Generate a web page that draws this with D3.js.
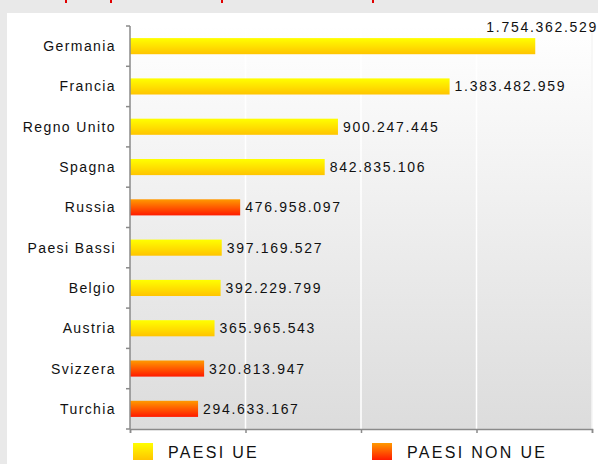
<!DOCTYPE html>
<html lang="it">
<head>
<meta charset="utf-8">
<script src="https://d3js.org/d3.v7.min.js"></script>
<style>
  body { margin: 0; background: #e9e9e9; }
  svg { display: block; font-family: "Liberation Sans", Arial, sans-serif; }
</style>
</head>
<body>
<script>
  // Data
  const paesi = ["Germania", "Francia", "Regno Unito", "Spagna", "Russia", "Paesi Bassi", "Belgio", "Austria", "Svizzera", "Turchia"];
  const valori = [1754362529, 1383482959, 900247445, 842835106, 476958097, 397169527, 392229799, 365965543, 320813947, 294633167];
  const gruppo = ["UE", "UE", "UE", "UE", "NON", "UE", "UE", "UE", "NON", "NON"];
  const xTicks = [0, 500000000, 1000000000, 1500000000, 2000000000];
  const legenda = [{key: "UE", label: "PAESI UE"}, {key: "NON", label: "PAESI NON UE"}];

  // Dimensions
  const W = 598, H = 464;
  const pLeft = 130, pRight = 592, pTop = 26, pBottom = 429;

  const it = d3.formatLocale({decimal: ",", thousands: ".", grouping: [3], currency: ["€", ""]});
  const fmt = it.format(",d");

  const svg = d3.select("body").append("svg").attr("width", W).attr("height", H);
  const defs = svg.append("defs");

  // gradients
  function vgrad(id, c0, c1) {
    const g = defs.append("linearGradient").attr("id", id).attr("x1", 0).attr("y1", 0).attr("x2", 0).attr("y2", 1);
    g.append("stop").attr("offset", "0%").attr("stop-color", c0);
    g.append("stop").attr("offset", "100%").attr("stop-color", c1);
  }
  vgrad("bg", "#ffffff", "#dcdcdc");
  vgrad("gUE", "#ffff00", "#ffc400");
  vgrad("gNON", "#ff9a00", "#ff1a00");
  const fillOf = g => g === "UE" ? "url(#gUE)" : "url(#gNON)";

  // cut-off title strip at the top
  svg.append("rect").attr("x", 0).attr("y", 0).attr("width", W).attr("height", 13).attr("fill", "#e9e9e9");
  svg.selectAll("rect.desc").data([65, 110, 221, 372]).join("rect")
    .attr("class", "desc").attr("x", d => d).attr("y", 0).attr("width", 2).attr("height", 3).attr("fill", "#e00000");

  // white panel
  svg.append("rect").attr("x", 7).attr("y", 13).attr("width", W - 7).attr("height", H - 13).attr("fill", "#ffffff");

  // Scales
  const x = d3.scaleLinear().domain([0, 2000000000]).range([pLeft, pRight]);
  const y = d3.scaleBand().domain(paesi).range([pTop, pBottom]).paddingInner(0.6).paddingOuter(0.3);

  // plot background
  svg.append("rect").attr("x", pLeft).attr("y", pTop).attr("width", pRight - pLeft).attr("height", pBottom - pTop).attr("fill", "url(#bg)");

  // grid
  svg.selectAll("line.grid").data(xTicks.slice(1, -1)).join("line")
    .attr("class", "grid")
    .attr("x1", d => x(d)).attr("x2", d => x(d)).attr("y1", pTop).attr("y2", pBottom)
    .attr("stroke", "#ffffff").attr("stroke-width", 1.5);
  svg.append("line").attr("x1", pRight).attr("x2", pRight).attr("y1", pTop).attr("y2", pBottom)
    .attr("stroke", "#f4f4f4").attr("stroke-width", 1.5);

  // bars
  svg.selectAll("rect.bar").data(paesi).join("rect")
    .attr("class", "bar")
    .attr("x", x(0))
    .attr("y", d => y(d))
    .attr("width", (d, i) => x(valori[i]) - x(0))
    .attr("height", y.bandwidth())
    .attr("fill", (d, i) => fillOf(gruppo[i]));

  // value labels
  const lab = svg.selectAll("text.val").data(paesi).join("text")
    .attr("class", "val")
    .attr("font-size", 14).attr("letter-spacing", 1.7).attr("fill", "#111")
    .attr("x", (d, i) => x(valori[i]) + 5)
    .attr("y", d => y(d) + y.bandwidth() / 2 + 5)
    .text((d, i) => fmt(valori[i]));
  lab.each(function(d, i) {
    const w = this.getComputedTextLength();
    if (x(valori[i]) + 5 + w > W) {
      d3.select(this).attr("text-anchor", "end").attr("x", W).attr("y", y(d) - 6);
    }
  });

  // Y axis
  const yAxisG = svg.append("g").attr("transform", `translate(${pLeft},0)`);
  yAxisG.append("line").attr("x1", 0).attr("x2", 0).attr("y1", pTop).attr("y2", pBottom).attr("stroke", "#8a8a8a").attr("stroke-width", 1.5);
  const bounds = d3.range(paesi.length + 1).map(i => pTop + i * (pBottom - pTop) / paesi.length);
  yAxisG.selectAll("line.tk").data(bounds).join("line")
    .attr("class", "tk").attr("x1", -4).attr("x2", 0).attr("y1", d => d).attr("y2", d => d)
    .attr("stroke", "#8a8a8a").attr("stroke-width", 1.5);
  yAxisG.selectAll("text").data(paesi).join("text")
    .attr("x", -14).attr("y", d => y(d) + y.bandwidth() / 2 + 5)
    .attr("text-anchor", "end").attr("font-size", 14).attr("letter-spacing", 1.4).attr("fill", "#111")
    .text(d => d);

  // X axis
  const xAxis = svg.append("g")
    .attr("transform", `translate(0,${pBottom})`)
    .call(d3.axisBottom(x).tickValues(xTicks).tickSize(4).tickFormat(""));
  xAxis.select(".domain").attr("stroke", "#8a8a8a").attr("stroke-width", 1.5);
  xAxis.selectAll(".tick line").attr("stroke", "#8a8a8a").attr("stroke-width", 1.5);

  // Legend
  const legX = [133, 372];
  const lg = svg.selectAll("g.leg").data(legenda).join("g")
    .attr("class", "leg").attr("transform", (d, i) => `translate(${legX[i]},443)`);
  lg.append("rect").attr("width", 20).attr("height", 17).attr("fill", d => fillOf(d.key));
  lg.append("text").attr("x", 35).attr("y", 15).attr("font-size", 16).attr("letter-spacing", 2.3)
    .attr("fill", "#111").text(d => d.label);
</script>
</body>
</html>
